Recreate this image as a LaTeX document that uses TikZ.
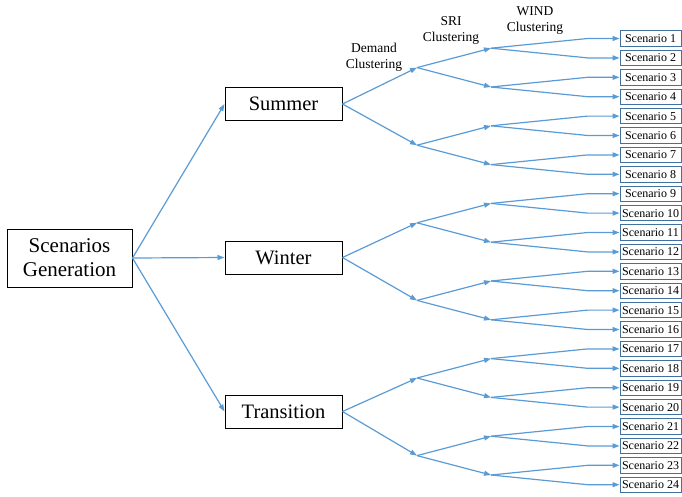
\documentclass[tikz,border=0pt]{standalone}
\usepackage{fontspec}
\setmainfont{Liberation Serif}
\newfontfamily\tnr{Liberation Serif}
\usetikzlibrary{arrows.meta,calc}
\definecolor{arrblue}{HTML}{5B9BD5}
\definecolor{boxblue}{HTML}{41719C}
\tikzset{
  mainbox/.style={draw=black, line width=1pt, fill=white, inner sep=0pt, minimum width=117pt, minimum height=33pt, font=\tnr\fontsize{20.5}{24}\selectfont},
  scen/.style={draw=boxblue, line width=0.9pt, fill=white, inner sep=0pt, minimum width=61pt, minimum height=15.5pt, font=\tnr\fontsize{12}{14}\selectfont},
  arr/.style={draw=arrblue, line width=1.2pt, -{Triangle[length=7pt,width=5pt]}},
  hdr/.style={align=center, font=\tnr\fontsize{13.5}{16}\selectfont, inner sep=0pt}
}
\begin{document}
\begin{tikzpicture}[x=1pt,y=-1pt]
\useasboundingbox (0,0) rectangle (682,496);
% main nodes
\node[mainbox, minimum width=125pt, minimum height=58pt, align=center, font=\tnr\fontsize{21}{24}\selectfont] (gen) at (69.5,258) {Scenarios\\Generation};
\node[mainbox] (summer) at (283.5,104) {Summer};
\node[mainbox] (winter) at (283.5,257.5) {Winter};
\node[mainbox] (trans) at (283.5,411.5) {Transition};
% scenario boxes
\foreach \i in {1,...,24} {
  \node[scen] (sc\i) at (650.5,{38.5+19.4*(\i-1)}) {Scenario \i};
}
% split points
\foreach \j in {1,...,12} {
  \coordinate (s\j) at (491,{38.5+19.4*(2*\j-1.5)});
}
\foreach \k in {1,...,6} {
  \coordinate (d\k) at (417,{38.5+19.4*(4*\k-2.5)});
}
% headers
\node[hdr] (hd) at (374,57) {Demand\\Clustering};
\node[hdr] (hs) at (451,30) {SRI\\Clustering};
\node[hdr] (hw) at (535,21) {WIND\\Clustering};
% connectors
\draw[arr] (gen.east) -- (summer.west);
\draw[arr] (gen.east) -- (winter.west);
\draw[arr] (gen.east) -- (trans.west);
\draw[arr] (summer.east) -- (d1);
\draw[arr] (summer.east) -- (d2);
\draw[arr] (winter.east) -- (d3);
\draw[arr] (winter.east) -- (d4);
\draw[arr] (trans.east) -- (d5);
\draw[arr] (trans.east) -- (d6);
\foreach \k in {1,...,6} {
  \pgfmathtruncatemacro\ja{2*\k-1}
  \pgfmathtruncatemacro\jb{2*\k}
  \draw[arr] (d\k) -- (s\ja);
  \draw[arr] (d\k) -- (s\jb);
}
\foreach \i in {1,...,24} {
  \pgfmathtruncatemacro\j{(\i+1)/2}
  \draw[arr] (s\j) -- ([xshift=-32pt]sc\i.west) -- (sc\i.west);
}
\end{tikzpicture}
\end{document}
